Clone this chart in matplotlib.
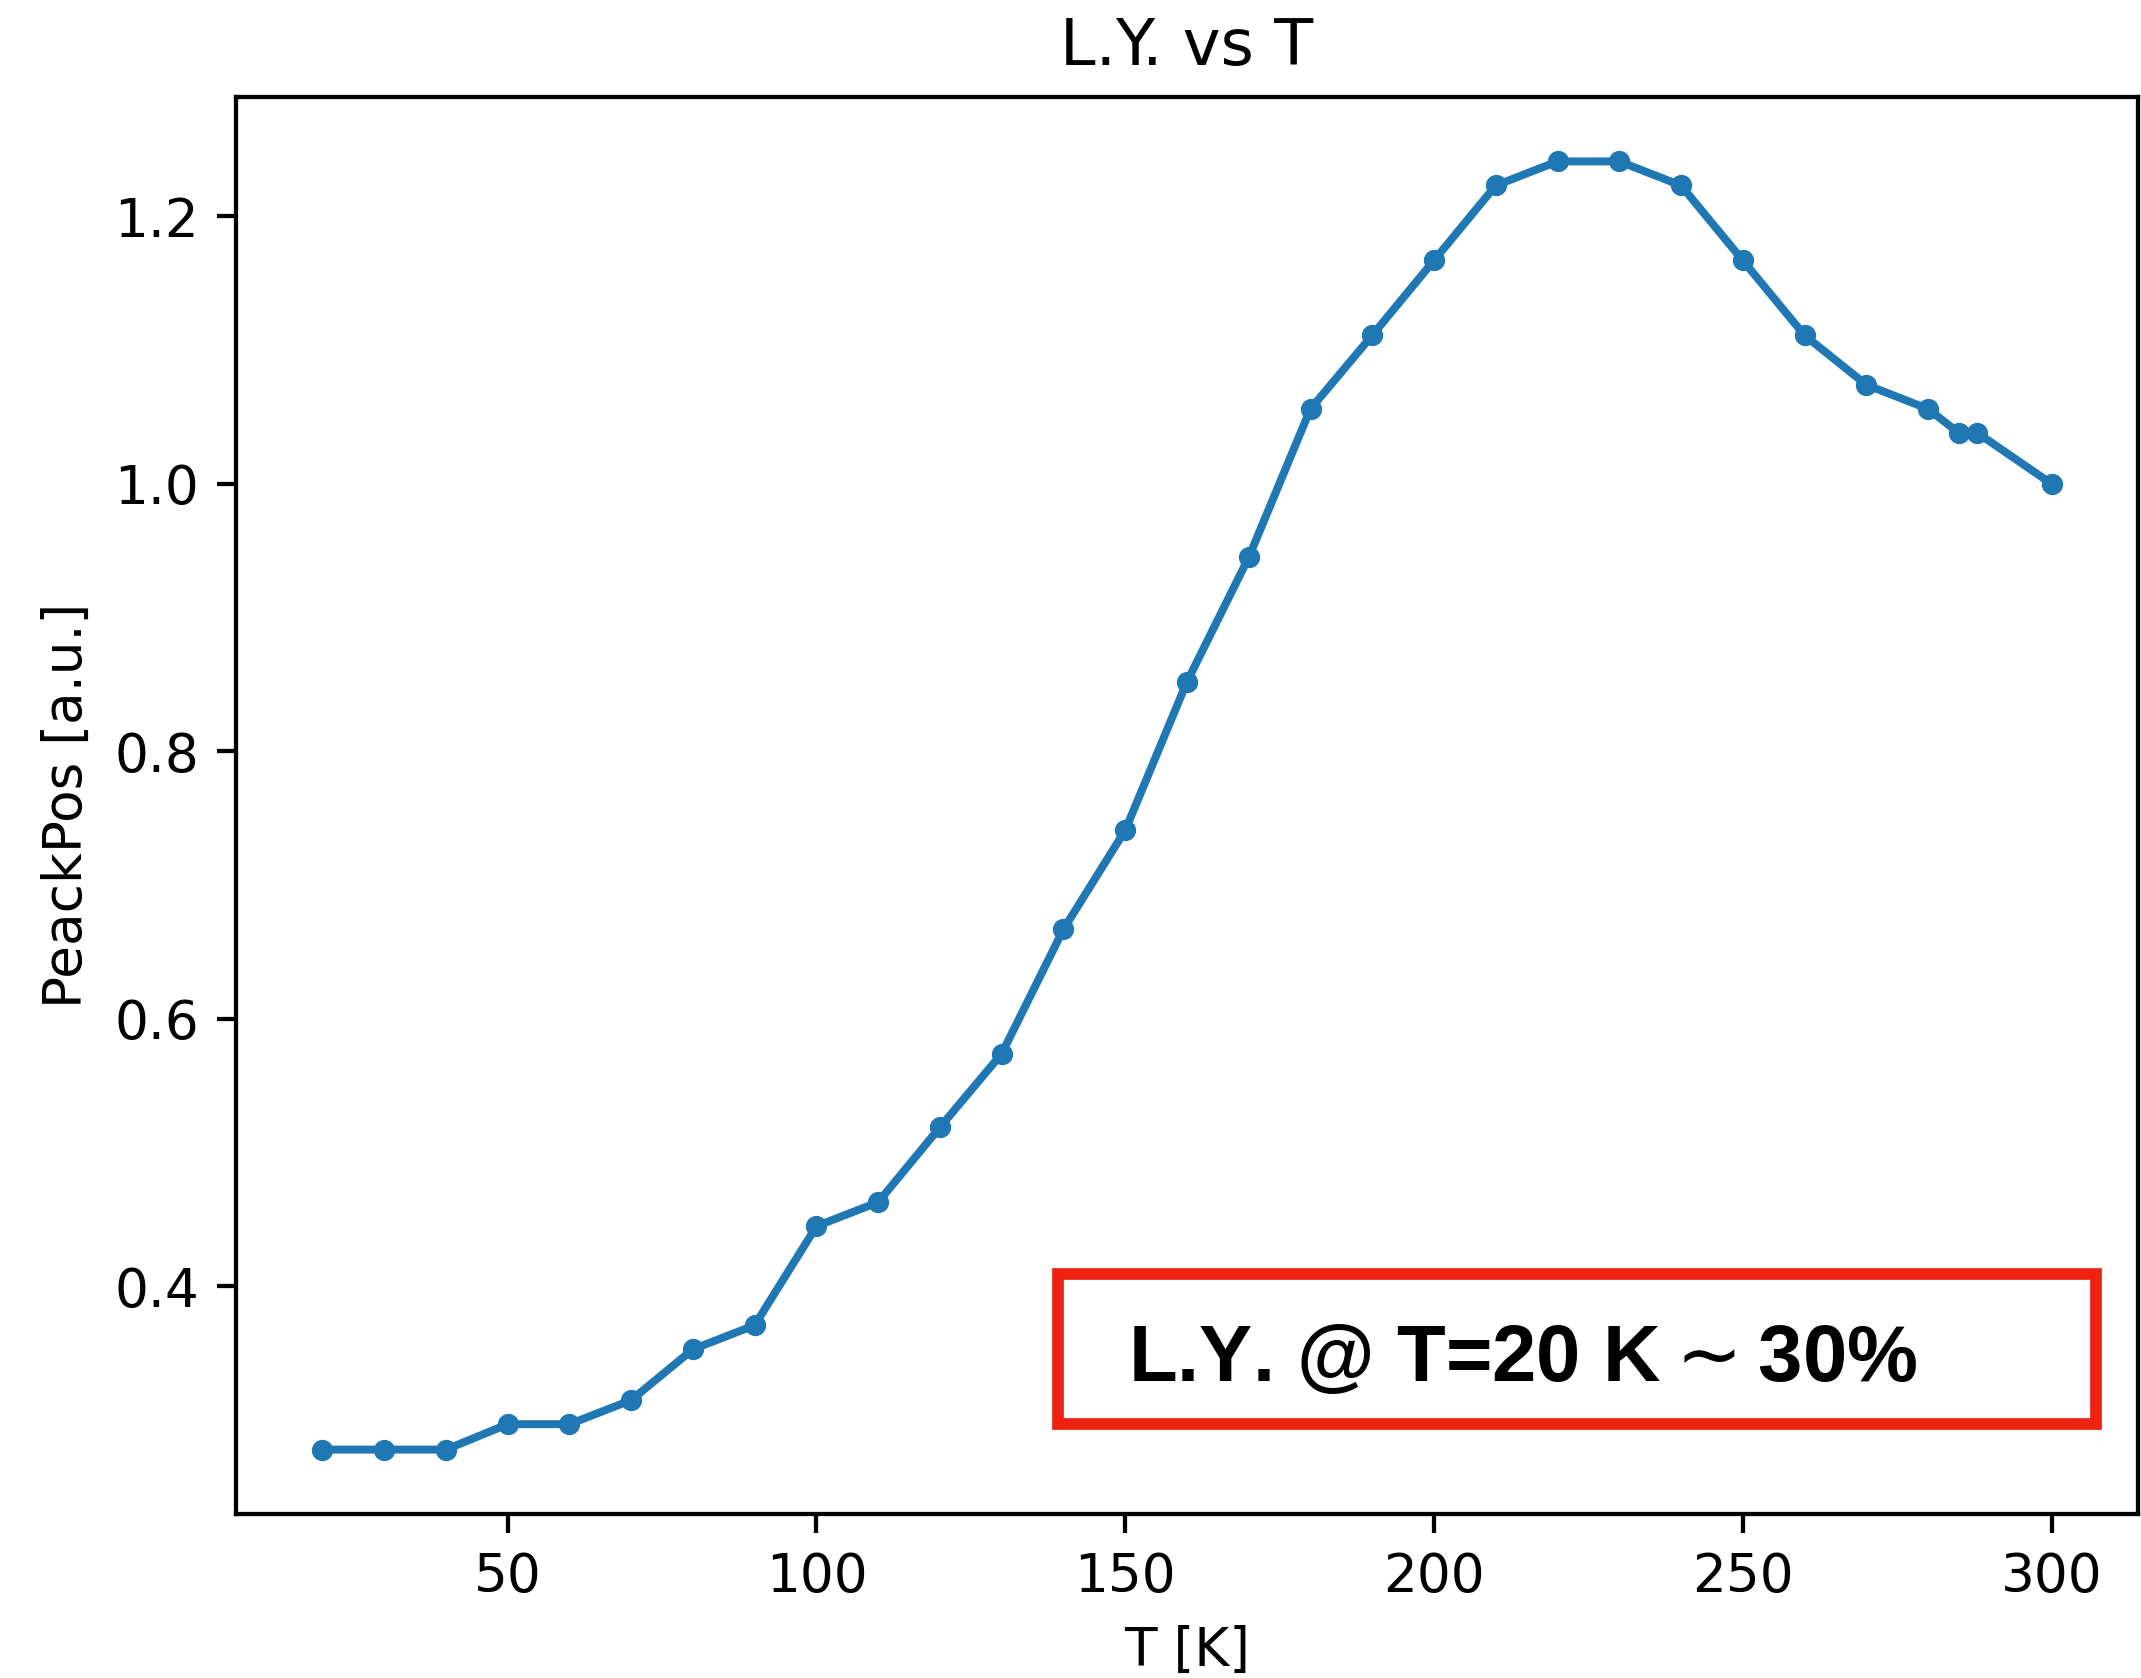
import matplotlib
matplotlib.use("Agg")
import matplotlib.pyplot as plt
from matplotlib.patches import Rectangle

temperature = [20, 30, 40, 50, 60, 70, 80, 90, 100, 110, 120, 130, 140, 150, 160, 170,
               180, 190, 200, 210, 220, 230, 240, 250, 260, 270, 280, 285, 288, 300]
peak_pos = [0.278, 0.278, 0.278, 0.297, 0.297, 0.315, 0.353, 0.371, 0.445, 0.463,
            0.519, 0.574, 0.667, 0.741, 0.852, 0.945, 1.056, 1.111, 1.167, 1.223,
            1.241, 1.241, 1.223, 1.167, 1.111, 1.074, 1.056, 1.038, 1.038, 1.000]

title = "L.Y. vs T"
xlabel = "T [K]"
ylabel = "PeackPos [a.u.]"
note = r"L.Y. @ T=20 K$\sim$30%"

DPI = 383
fig = plt.figure(figsize=(2141 / DPI, 1678 / DPI), dpi=DPI)
ax = fig.add_axes([236 / 2141, 1 - 1514 / 1678, 1902 / 2141, 1417 / 1678])
ax.plot(temperature, peak_pos, ".-", color="#1f77b4")
ax.set_title(title)
ax.set_xlabel(xlabel)
ax.set_ylabel(ylabel)
ax.set_yticks([0.4, 0.6, 0.8, 1.0, 1.2])

ax.add_patch(Rectangle((0.432, 0.0635), 0.546, 0.106, transform=ax.transAxes,
                       fill=False, edgecolor="#ee2211", linewidth=2.2, zorder=5))
ax.text(0.469, 0.108, note, transform=ax.transAxes, ha="left", va="center",
        fontsize=15, fontweight="bold", family="Liberation Sans")

fig.savefig("out.png", dpi=DPI)
